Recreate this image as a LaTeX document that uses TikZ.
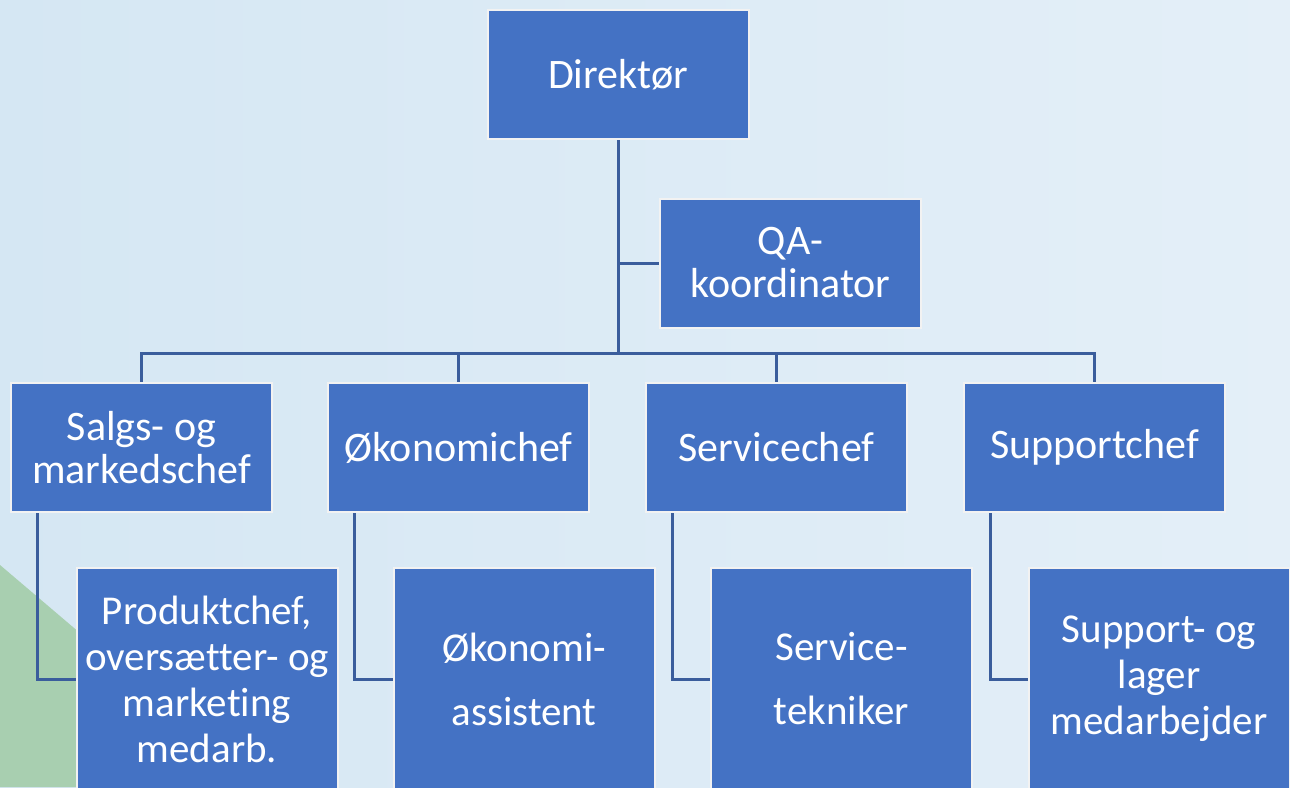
\documentclass[tikz,border=0pt]{standalone}
\usepackage{fontspec}
\setmainfont{Carlito}[Ligatures={NoCommon}]
\definecolor{bgL}{HTML}{D5E7F3}
\definecolor{bgR}{HTML}{E4EFF8}
\definecolor{greenbg}{HTML}{A8CFB0}
\definecolor{boxblue}{HTML}{4472C4}
\definecolor{linecol}{HTML}{3A5D9C}
\definecolor{edgecol}{HTML}{F2F2F2}
\pgfdeclarelayer{bglayer}
\pgfdeclarelayer{linelayer}
\pgfsetlayers{bglayer,linelayer,main}
\tikzset{
  orgbox/.style={draw=edgecol, line width=2pt, fill=boxblue, text=white, align=center,
    inner sep=0pt, minimum width=261pt, minimum height=129pt,
    font=\fontsize{42}{43}\selectfont},
  lowbox/.style={orgbox, minimum height=222pt, font=\fontsize{41}{46}\selectfont},
  conn/.style={draw=linecol, line width=3pt}
}
\begin{document}
\begin{tikzpicture}[x=1pt,y=-1pt]
\useasboundingbox (0,0) rectangle (1290,787);
\clip (0,0) rectangle (1290,787);

% nodes
\node[orgbox] (dir) at (618,74.5) {Direktør};
\node[orgbox] (qa) at (790.5,263) {QA-\\koordinator};
\node[orgbox] (salg) at (141.5,447.5) {Salgs- og\\markedschef};
\node[orgbox] (oek) at (458.5,447.5) {Økonomichef};
\node[orgbox] (serv) at (776.5,447.5) {Servicechef};
\node[orgbox] (sup) at (1094.5,447.5) {Supportchef};

\node[lowbox] (prod) at (207,679) {Produktchef,\\oversætter- og\\marketing\\medarb.};
\node[lowbox] (oeka) at (524,679) {Økonomi-\\[18pt]assistent};
\node[lowbox] (tek) at (841.5,679) {Service-\\[18pt]tekniker};
\node[lowbox] (lag) at (1159,679) {Support- og\\lager\\medarbejder};

\coordinate (bus) at (618,353);
\coordinate (c1) at ([xshift=27pt]salg.south west);
\coordinate (c2) at ([xshift=27pt]oek.south west);
\coordinate (c3) at ([xshift=27pt]serv.south west);
\coordinate (c4) at ([xshift=27pt]sup.south west);

\begin{pgfonlayer}{bglayer}
\shade[left color=bgL, right color=bgR] (0,0) rectangle (1290,787);
\fill[greenbg] (0,565) -- (261,787) -- (0,787) -- cycle;
\end{pgfonlayer}

\begin{pgfonlayer}{linelayer}
\draw[conn] (dir.south) -- (bus);
\draw[conn] (qa.west) -- (qa.west -| bus);
\draw[conn] (salg.north) |- (bus) -| (sup.north);
\draw[conn] (oek.north) -- (oek.north |- bus);
\draw[conn] (serv.north) -- (serv.north |- bus);
\draw[conn] (c1) |- (prod.west);
\draw[conn] (c2) |- (oeka.west);
\draw[conn] (c3) |- (tek.west);
\draw[conn] (c4) |- (lag.west);
\end{pgfonlayer}
\end{tikzpicture}
\end{document}
